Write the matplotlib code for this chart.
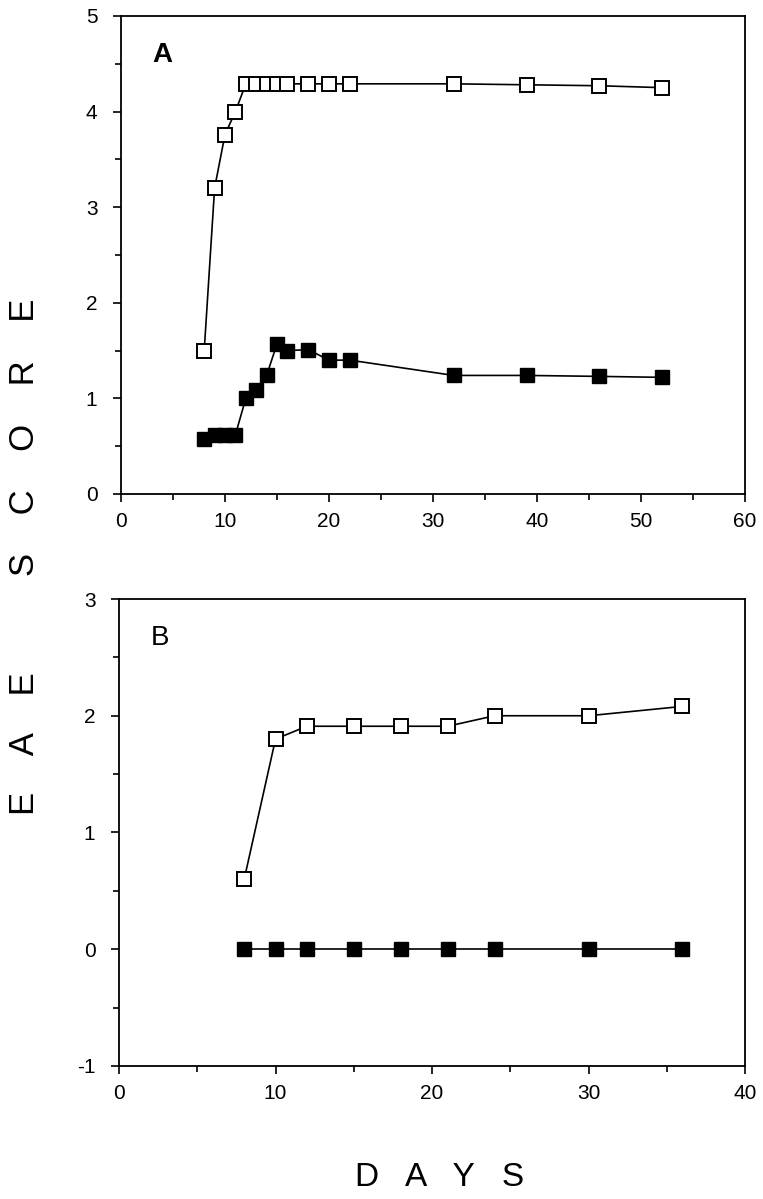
import matplotlib
matplotlib.use('Agg')
import matplotlib.pyplot as plt
from matplotlib.ticker import MultipleLocator

plt.rcParams['font.family'] = ['Liberation Sans', 'DejaVu Sans']
plt.rcParams['axes.unicode_minus'] = False

# panel A
days_a = [8, 9, 10, 11, 12, 13, 14, 15, 16, 18, 20, 22, 32, 39, 46, 52]
open_a = [1.50, 3.20, 3.76, 4.00, 4.29, 4.29, 4.29, 4.29, 4.29, 4.29, 4.29, 4.29, 4.29, 4.28, 4.27, 4.25]
filled_a = [0.57, 0.62, 0.62, 0.62, 1.00, 1.09, 1.24, 1.57, 1.50, 1.51, 1.40, 1.40, 1.24, 1.24, 1.23, 1.22]

# panel B
days_b = [8, 10, 12, 15, 18, 21, 24, 30, 36]
open_b = [0.60, 1.80, 1.91, 1.91, 1.91, 1.91, 2.00, 2.00, 2.08]
filled_b = [0, 0, 0, 0, 0, 0, 0, 0, 0]

fig = plt.figure(figsize=(7.63, 11.99), dpi=100)
ax_a = fig.add_axes([0.1586, 0.588, 0.8178, 0.3987])
ax_b = fig.add_axes([0.1560, 0.111, 0.8204, 0.3894])

def draw(ax, x, yo, yf):
    ax.plot(x, yf, '-s', color='black', lw=1.2, ms=9.5, mfc='black', mec='black', clip_on=False)
    ax.plot(x, yo, '-s', color='black', lw=1.2, ms=9.5, mfc='white', mec='black', mew=1.4, clip_on=False)
    for s in ax.spines.values():
        s.set_linewidth(1.3)
    ax.tick_params(which='both', direction='out', labelsize=15, width=1.2)
    ax.tick_params(which='major', length=6)
    ax.tick_params(which='minor', length=4)
    ax.tick_params(axis='x', pad=7)
    ax.tick_params(axis='y', pad=11)

draw(ax_a, days_a, open_a, filled_a)
ax_a.set_xlim(0, 60)
ax_a.set_ylim(0, 5)
ax_a.xaxis.set_major_locator(MultipleLocator(10))
ax_a.xaxis.set_minor_locator(MultipleLocator(5))
ax_a.yaxis.set_major_locator(MultipleLocator(1))
ax_a.yaxis.set_minor_locator(MultipleLocator(0.5))
ax_a.text(0.05, 0.945, 'A', transform=ax_a.transAxes, fontsize=20, fontweight='bold', va='top')

draw(ax_b, days_b, open_b, filled_b)
ax_b.set_xlim(0, 40)
ax_b.set_ylim(-1, 3)
ax_b.xaxis.set_major_locator(MultipleLocator(10))
ax_b.xaxis.set_minor_locator(MultipleLocator(5))
ax_b.yaxis.set_major_locator(MultipleLocator(1))
ax_b.yaxis.set_minor_locator(MultipleLocator(0.5))
ax_b.text(0.05, 0.945, 'B', transform=ax_b.transAxes, fontsize=20, va='top')

fig.text(25 / 763, 1 - 557 / 1199, 'E    A    E          S    C    O    R    E', rotation=90,
         fontsize=25, ha='center', va='center')
fig.text(440 / 763, 1 - 1177 / 1199, 'D   A   Y   S', fontsize=24, ha='center', va='center')

fig.savefig('out.png', dpi=100)
